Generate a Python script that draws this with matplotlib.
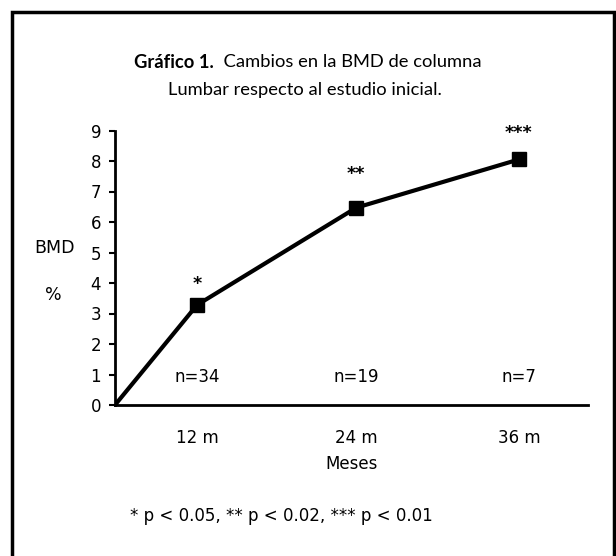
import matplotlib.pyplot as plt
from matplotlib.patches import Rectangle
from matplotlib.transforms import offset_copy

# Datos
meses = ["12 m", "24 m", "36 m"]
pos = [0, 0.51, 1.5, 2.51]        # origen + 3 controles (posición en el eje)
bmd = [0, 3.28, 6.47, 8.05]       # cambio de BMD (%)
n_pac = ["n=34", "n=19", "n=7"]
signif = ["*", "**", "***"]
signif_y = [4.13, 7.74, 9.08]     # altura de los asteriscos

FONT = "DejaVu Sans"

fig = plt.figure(figsize=(6.16, 5.56), dpi=100)
fig.patch.set_facecolor("white")

# Marco exterior (abierto por abajo)
fig.patches.append(Rectangle((12 / 616, -0.05), (614 - 12) / 616, 1 - 12 / 556 + 0.05,
                             transform=fig.transFigure, fill=False,
                             edgecolor="black", linewidth=2.5))

# Título: parte en negrita + resto normal, centrados juntos
renderer = fig.canvas.get_renderer()
t1 = fig.text(0, 1 - 62 / 556, "Gráfico 1.", ha="left", va="center",
              fontsize=13.2, family="Lato", fontweight="bold")
t2 = fig.text(0, 1 - 62 / 556, "  Cambios en la BMD de columna", ha="left", va="center",
              fontsize=13.2, family="Lato")
w1 = t1.get_window_extent(renderer).width
w2 = t2.get_window_extent(renderer).width
x0 = 308 - (w1 + w2) / 2
t1.set_x(x0 / 616)
t2.set_x((x0 + w1) / 616)
fig.text(305 / 616, 1 - 90 / 556, "Lumbar respecto al estudio inicial.",
         ha="center", va="center", fontsize=13.2, family="Lato")

ax = fig.add_axes([115 / 616, 1 - 405 / 556, (588 - 115) / 616, (405 - 130.5) / 556])
ax.plot(pos, bmd, "-", color="black", linewidth=3)
ax.plot(pos[1:], bmd[1:], "s", color="black", markersize=10)

ax.set_xlim(0, 2.94)
ax.set_ylim(0, 9)
ax.set_yticks(range(10))
ax.set_xticks(pos[1:])
ax.set_xticklabels(meses)
ax.tick_params(axis="x", length=0, pad=17, labelsize=12)
ax.tick_params(axis="y", length=4, width=1.5, labelsize=12, pad=6)
for lbl in ax.get_xticklabels() + ax.get_yticklabels():
    lbl.set_family(FONT)

for s in ["top", "right"]:
    ax.spines[s].set_visible(False)
ax.spines["left"].set_linewidth(2)
ax.spines["bottom"].set_linewidth(2)

ax.set_xlabel("Meses", fontsize=12, family=FONT, labelpad=6)

# Anotaciones
base_shift = offset_copy(ax.transData, fig=fig, x=0, y=-10, units="dots")
for x, sy, s, n in zip(pos[1:], signif_y, signif, n_pac):
    ax.text(x, sy, s, ha="center", va="baseline", fontsize=12.5,
            family=FONT, fontweight="bold", transform=base_shift, clip_on=False)
    ax.text(x, 0.92, n, ha="center", va="center", fontsize=12, family=FONT)

fig.text(55 / 616, 1 - 248 / 556, "BMD", ha="center", va="center",
         fontsize=12.5, family=FONT)
fig.text(53 / 616, 1 - 295 / 556, "%", ha="center", va="center",
         fontsize=12.5, family=FONT)

fig.text(130 / 616, 1 - 516 / 556, "* p < 0.05, ** p < 0.02, *** p < 0.01",
         ha="left", va="center", fontsize=12, family=FONT)

fig.savefig("out.png", dpi=100, facecolor="white")
